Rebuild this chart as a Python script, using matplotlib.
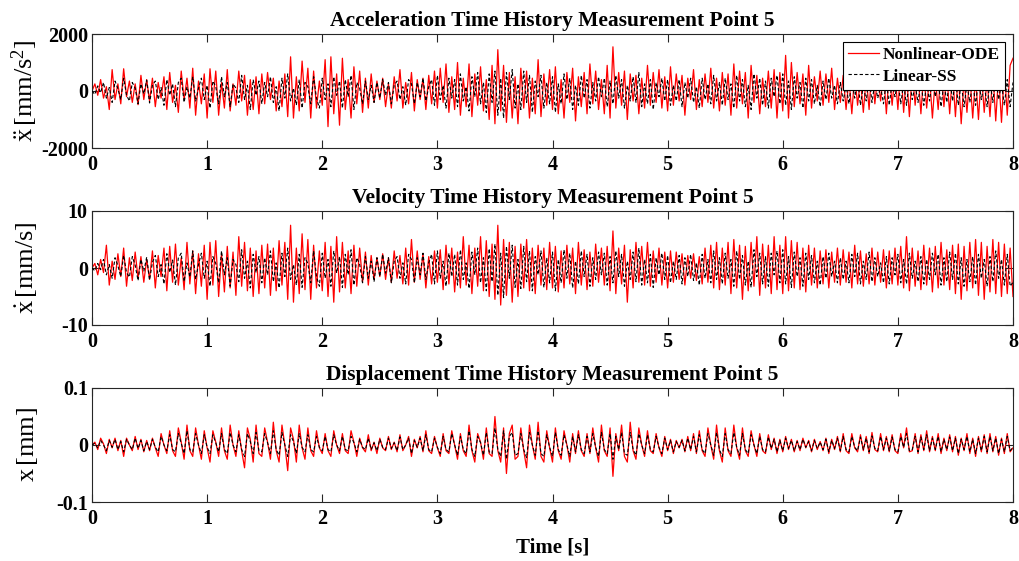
import numpy as np
import matplotlib
matplotlib.use("Agg")
import matplotlib.pyplot as plt

# ---------------------------------------------------------------------------
# Response of measurement point 5, sampled every 0.025 s over 0..8 s
# ---------------------------------------------------------------------------
time_start, time_end = 0.0, 8.0

acc_nonlinear = [
    0, 250, -150, 400, -250, 150, -650, 750, -300, 250, -450, 780, -200, 350, -400, 250, -480, 550, -300, 400,
    -350, 450, -550, 300, -250, 500, -650, 650, -400, 200, -750, 700, -300, 450, -600, 800, -850, 350, -450, 600,
    -950, 780, -400, 700, -850, 300, -600, 750, -700, 250, -500, 700, -350, 550, -850, 400, -650, 500, -800, 600,
    -450, 650, -300, 450, -700, 350, -550, 600, -900, 1200, -950, 500, -700, 1050, -400, 800, -950, 700, -600, 350,
    -500, 1100, -1250, 1200, -800, 600, -1200, 1150, -650, 400, -950, 850, -450, 700, -750, 450, -600, 600, -400, 350,
    -300, 450, -550, 250, -600, 500, -350, 750, -600, 300, -450, 650, -700, 400, -300, 450, -650, 550, -450, 700,
    -600, 800, -400, 950, -750, 500, -650, 1000, -850, 450, -550, 950, -900, 600, -500, 850, -700, 400, -1000, 900,
    -1150, 1450, -700, 900, -1100, 650, -950, 500, -1150, 800, -600, 700, -950, 450, -800, 1100, -900, 600, -500, 750,
    -650, 850, -800, 400, -950, 650, -400, 800, -1050, 500, -550, 650, -800, 950, -450, 700, -650, 400, -800, 900,
    -950, 1550, -600, 650, -500, 700, -1000, 600, -350, 550, -800, 450, -600, 900, -500, 650, -400, 750, -600, 500,
    -700, 850, -500, 600, -350, 550, -850, 450, -300, 750, -650, 400, -550, 600, -400, 800, -600, 450, -700, 650,
    -500, 600, -850, 950, -600, 700, -450, 650, -950, 900, -400, 550, -800, 450, -550, 700, -600, 750, -950, 650,
    -700, 1250, -950, 1000, -550, 650, -450, 600, -850, 900, -600, 500, -350, 700, -500, 600, -400, 800, -650, 450,
    -400, 550, -650, 450, -800, 600, -500, 400, -750, 500, -650, 850, -450, 550, -350, 650, -800, 700, -500, 600,
    -650, 850, -750, 600, -900, 700, -500, 600, -800, 650, -600, 500, -950, 450, -650, 750, -550, 600, -800, 650,
    -900, 650, -1150, 450, -750, 600, -950, 500, -1000, 650, -750, 450, -900, 700, -1050, 600, -1100, 750, -850, 900,
    1150,
]

acc_linear = [
    0, -120, 180, -60, 300, -250, 120, -400, 350, 80, -300, 450, -150, -350, 300, 100, -450, 250, -100, 380,
    -420, 200, 350, -300, 120, -500, 400, -150, 250, -550, 300, 450, -400, 150, -250, 500, -350, 100, 450, -300,
    200, -600, 350, 150, -450, 500, -200, 300, -550, 250, 100, -400, 550, -300, 200, -650, 400, -150, 350, -450,
    300, -200, 500, -400, 150, -700, 450, -250, 600, -350, 100, -500, 400, -600, 300, 150, -450, 500, -250, -600,
    450, -300, 250, -550, 500, -150, 350, -600, 400, -200, 550, -650, 300, 100, -450, 350, -300, 200, -400, 300,
    -250, 400, -150, 300, -450, 200, 350, -300, 150, -500, 400, 250, -450, 300, -200, 450, -350, 150, 400, -500,
    550, -300, 200, -600, 450, -250, 400, -550, 600, -350, 150, -700, 500, -200, 650, -450, 300, -750, 600, -400,
    700, -850, 450, -950, 650, -300, 750, -600, 250, -650, 700, -400, 550, -750, 350, -200, 550, -600, 300, -450,
    500, -750, 250, -450, 600, -300, 450, -650, 200, -500, 550, -250, 400, -600, 300, -350, 500, -200, 450, -550,
    350, -450, 550, -250, 400, -600, 200, -350, 500, -400, 650, -550, 250, -450, 400, -650, 300, -200, 450, -350,
    400, -500, 200, -350, 400, -550, 300, -250, 450, -400, 150, -600, 450, -300, 250, -450, 550, -350, 300, -500,
    450, -300, 250, -600, 550, -350, 400, -550, 200, -650, 600, -250, 450, -500, 350, -600, 450, -200, 550, -450,
    600, -500, 350, -650, 500, -250, 300, -600, 450, -350, 400, -450, 200, -550, 350, -300, 450, -250, 200, -450,
    300, -350, 200, -450, 400, -250, 450, -500, 200, -350, 500, -400, 300, -250, 150, -450, 350, -500, 300, -200,
    400, -450, 250, -500, 450, -300, 200, -400, 350, -500, 250, -350, 450, -200, 400, -550, 300, -400, 500, -350,
    450, -500, 300, -550, 250, -400, 350, -500, 400, -300, 250, -550, 350, -400, 500, -300, 250, -500, 400, -550,
    300,
]

vel_nonlinear = [
    0, 0.8, -1.2, 1.5, -0.8, 4.0, -3.0, 1.2, -2.0, 2.5, -1.5, 3.5, -3.2, 1.8, -2.2, 2.8, -1.8, 2.0, -2.5, 1.5,
    -2.0, 3.0, -3.5, 2.2, -1.5, 3.5, -4.0, 3.8, -2.5, 4.2, -3.0, 1.8, -3.8, 4.5, -2.8, 3.0, -4.5, 2.5, -3.2, 4.0,
    -5.5, 4.5, -3.0, 4.8, -5.0, 2.5, -4.2, 3.8, -3.5, 2.8, -4.8, 5.5, -3.2, 4.5, -4.0, 3.5, -5.0, 3.0, -4.5, 4.0,
    -3.5, 4.2, -4.8, 3.5, -4.0, 4.8, -3.0, 4.5, -5.5, 7.5, -6.0, 3.5, -4.5, 6.0, -3.8, 5.0, -5.5, 4.0, -3.5, 3.0,
    -4.0, 4.5, -5.0, 3.8, -6.0, 5.5, -4.2, 4.5, -3.5, 3.0, -4.5, 4.0, -3.2, 3.5, -2.5, 2.8, -3.0, 2.2, -2.0, 1.8,
    -1.5, 2.5, -2.0, 1.8, -2.5, 3.0, -1.8, 2.2, -2.8, 3.5, -3.0, 5.0, -2.5, 3.0, -2.0, 2.5, -3.5, 2.0, -2.8, 3.0,
    -2.5, 3.2, -3.8, 4.0, -2.8, 3.5, -4.2, 2.8, -3.5, 5.5, -3.0, 4.0, -4.5, 3.5, -3.2, 5.5, -4.0, 4.8, -5.0, 4.2,
    -5.5, 7.5, -6.5, 5.0, -4.8, 4.5, -6.0, 3.8, -5.0, 4.2, -3.5, 5.0, -4.0, 3.5, -4.5, 4.0, -3.0, 3.5, -3.8, 4.5,
    -3.5, 3.8, -4.2, 3.0, -3.5, 4.0, -2.8, 3.5, -4.5, 4.5, -3.0, 3.2, -3.8, 2.8, -3.2, 4.2, -2.5, 3.5, -3.0, 3.8,
    -4.0, 6.5, -4.5, 3.5, -2.8, 4.0, -6.0, 3.2, -3.5, 4.5, -2.5, 3.8, -3.0, 4.5, -3.2, 3.0, -2.5, 3.5, -3.0, 2.8,
    -3.5, 3.0, -2.5, 2.8, -2.0, 2.5, -3.0, 2.2, -1.8, 2.5, -2.2, 2.0, -2.8, 3.5, -2.5, 4.0, -3.5, 4.5, -3.8, 3.5,
    -3.0, 4.5, -4.5, 5.0, -3.5, 4.0, -5.5, 3.8, -4.0, 4.5, -3.2, 5.5, -4.8, 4.2, -3.5, 4.0, -4.5, 5.5, -3.8, 4.0,
    -4.5, 5.5, -4.0, 4.8, -3.5, 4.5, -3.8, 3.5, -4.2, 4.0, -3.0, 3.5, -3.5, 3.0, -2.8, 3.2, -3.5, 2.8, -2.5, 3.5,
    -3.0, 3.2, -2.5, 2.8, -3.5, 4.0, -2.8, 3.0, -3.2, 2.5, -2.8, 3.5, -3.0, 2.8, -2.5, 3.2, -3.5, 3.0, -2.8, 3.5,
    -3.0, 3.8, -3.5, 5.5, -4.0, 3.5, -3.2, 3.0, -3.8, 4.0, -3.0, 3.5, -4.2, 3.8, -3.5, 4.5, -3.0, 3.2, -3.8, 4.0,
    -4.5, 4.2, -5.5, 3.8, -4.0, 4.5, -3.5, 5.0, -4.8, 4.5, -5.5, 3.8, -4.2, 5.0, -4.5, 4.5, -5.0, 4.2, -4.5, 3.5,
    -5.0,
]

vel_linear = [
    0, -0.5, 0.8, -0.3, 1.5, -1.2, 0.6, -1.8, 1.8, 0.4, -1.5, 2.2, -0.8, -1.6, 2.0, 0.5, -2.2, 1.5, -0.6, 1.9,
    -2.1, 1.0, 2.2, -1.5, 0.6, -2.8, 2.5, -0.8, 1.4, -3.0, 1.8, 2.6, -2.4, 0.9, -1.6, 3.0, -2.0, 0.6, 2.6, -1.8,
    1.2, -3.2, 2.0, 0.8, -2.6, 3.0, -1.2, 1.8, -3.2, 1.5, 0.6, -2.4, 3.2, -1.8, 1.2, -3.5, 2.4, -0.8, 2.0, -2.6,
    1.8, -1.2, 3.0, -2.4, 0.9, -3.5, 2.6, -1.5, 3.5, -2.0, 0.6, -3.0, 2.4, -3.4, 1.8, 0.8, -2.6, 3.0, -1.5, -3.2,
    2.6, -1.8, 1.5, -3.2, 3.0, -0.9, 2.0, -3.4, 2.4, -1.2, 3.2, -3.0, 1.8, 0.6, -2.6, 2.0, -1.8, 1.2, -2.4, 1.8,
    -1.5, 2.4, -0.9, 1.8, -2.6, 1.2, 2.0, -1.8, 0.9, -2.8, 2.4, 1.5, -2.6, 1.8, -1.2, 2.6, -2.0, 0.9, 2.4, -2.8,
    3.0, -1.8, 1.2, -3.2, 2.6, -1.5, 2.4, -3.0, 3.2, -2.0, 0.9, -3.6, 2.8, -1.2, 3.5, -2.6, 1.8, -4.0, 3.4, -2.4,
    4.2, -4.8, 2.6, -5.2, 3.8, -1.8, 4.0, -3.4, 1.5, -3.6, 3.8, -2.4, 3.0, -4.0, 2.0, -1.2, 3.0, -3.4, 1.8, -2.6,
    2.8, -4.0, 1.5, -2.6, 3.2, -1.8, 2.6, -3.5, 1.2, -2.8, 3.0, -1.5, 2.4, -3.2, 1.8, -2.0, 2.8, -1.2, 2.6, -3.0,
    2.0, -2.6, 3.0, -1.5, 2.4, -3.2, 1.2, -2.0, 2.8, -2.4, 3.5, -3.0, 1.5, -2.6, 2.4, -3.4, 1.8, -1.2, 2.6, -2.0,
    2.2, -2.6, 1.2, -2.0, 2.2, -2.8, 1.8, -1.5, 2.4, -2.2, 0.9, -3.0, 2.4, -1.8, 1.5, -2.6, 3.0, -2.0, 1.8, -2.8,
    2.6, -1.8, 1.5, -3.2, 3.0, -2.0, 2.2, -3.0, 1.2, -3.4, 3.2, -1.5, 2.6, -2.8, 2.0, -3.2, 2.6, -1.2, 3.0, -2.6,
    3.2, -2.8, 2.0, -3.4, 2.8, -1.5, 1.8, -3.2, 2.6, -2.0, 2.2, -2.6, 1.2, -3.0, 2.0, -1.8, 2.6, -1.5, 1.2, -2.6,
    1.8, -2.0, 1.2, -2.6, 2.4, -1.5, 2.6, -2.8, 1.2, -2.0, 2.8, -2.4, 1.8, -1.5, 0.9, -2.6, 2.0, -2.8, 1.8, -1.2,
    2.4, -2.6, 1.5, -2.8, 2.6, -1.8, 1.2, -2.4, 2.0, -2.8, 1.5, -2.0, 2.6, -1.2, 2.4, -3.0, 1.8, -2.4, 2.8, -2.0,
    2.6, -2.8, 1.8, -3.2, 1.5, -2.4, 2.0, -3.0, 2.4, -1.8, 1.5, -3.2, 2.0, -2.4, 3.0, -1.8, 1.5, -3.0, 2.4, -3.2,
    -2.5,
]

disp_nonlinear = [
    0, 0.005, -0.008, 0.012, 0.002, -0.015, 0.01, -0.005, 0.012, -0.01, 0.008, -0.02, 0.012, 0.0, -0.01, 0.015, -0.008, 0.01, -0.012, 0.008,
    -0.01, 0.012, -0.005, -0.02, 0.02, 0.0, -0.015, 0.025, -0.01, -0.02, 0.03, 0.005, -0.025, 0.035, -0.01, -0.02, 0.03, 0.0, -0.025, 0.025,
    -0.005, -0.03, 0.025, 0.005, -0.02, 0.03, -0.01, -0.025, 0.035, 0.0, -0.02, 0.025, -0.01, -0.04, 0.03, 0.01, -0.03, 0.035, -0.015, -0.02,
    0.03, 0.005, -0.025, 0.04, -0.01, -0.03, 0.035, 0.0, -0.045, 0.03, 0.01, -0.03, 0.035, -0.005, -0.025, 0.03, -0.01, -0.02, 0.025, -0.005,
    -0.015, 0.02, -0.01, -0.02, 0.025, 0.0, -0.015, 0.02, -0.01, -0.015, 0.025, 0.005, -0.02, 0.012, -0.005, -0.012, 0.018, -0.01, 0.005, -0.015,
    0.012, -0.005, -0.01, 0.015, -0.008, 0.005, -0.012, 0.018, -0.01, 0.0, 0.015, -0.02, 0.01, -0.005, 0.015, -0.012, 0.025, -0.01, -0.015, 0.015,
    -0.005, -0.02, 0.02, -0.01, -0.015, 0.025, 0.0, -0.025, 0.02, -0.01, -0.02, 0.035, -0.01, -0.03, 0.02, 0.005, -0.025, 0.03, -0.015, -0.02,
    0.05, -0.01, -0.03, 0.03, -0.05, 0.02, 0.035, -0.025, -0.02, 0.03, -0.01, -0.04, 0.035, 0.0, -0.025, 0.04, -0.02, -0.03, 0.025, -0.005,
    -0.03, 0.03, -0.01, -0.025, 0.025, 0.0, -0.03, 0.02, -0.015, 0.025, -0.01, -0.02, 0.02, -0.015, 0.03, -0.005, -0.03, 0.035, -0.01, -0.02,
    0.03, -0.055, 0.02, -0.01, 0.035, -0.02, -0.03, 0.04, -0.01, -0.025, 0.03, 0.0, -0.02, 0.025, -0.01, -0.015, 0.02, -0.005, -0.02, 0.015,
    -0.01, 0.01, -0.015, 0.008, -0.005, 0.01, -0.012, 0.015, -0.01, 0.02, -0.015, 0.025, -0.01, -0.02, 0.03, 0.0, -0.025, 0.035, -0.01, -0.03,
    0.03, -0.01, -0.02, 0.035, -0.005, -0.025, 0.03, -0.01, -0.02, 0.025, 0.0, -0.02, 0.02, -0.01, -0.015, 0.018, -0.008, 0.012, -0.015, 0.01,
    -0.012, 0.015, -0.008, 0.01, -0.012, 0.008, -0.01, 0.012, -0.005, 0.008, -0.012, 0.01, -0.008, 0.006, -0.01, 0.012, -0.015, 0.01, -0.008, 0.015,
    -0.012, 0.02, -0.01, -0.015, 0.02, -0.005, -0.012, 0.018, -0.01, 0.015, -0.015, 0.022, -0.008, -0.012, 0.02, -0.01, 0.015, -0.012, 0.018, -0.01,
    -0.015, 0.02, -0.005, 0.03, -0.012, -0.01, 0.02, -0.015, 0.018, -0.01, 0.025, -0.012, 0.015, -0.01, 0.02, -0.015, 0.012, -0.01, 0.018, -0.012,
    0.015, -0.018, 0.012, -0.01, 0.02, -0.015, 0.012, -0.02, 0.015, -0.012, 0.018, -0.015, 0.02, -0.012, 0.015, -0.018, 0.012, -0.015, 0.02, -0.012,
    -0.005,
]

disp_linear = [
    0, 0.003, -0.005, 0.008, 0.0, -0.01, 0.008, -0.004, 0.01, -0.008, 0.006, -0.012, 0.01, 0.0, -0.008, 0.012, -0.006, 0.008, -0.01, 0.006,
    -0.008, 0.01, -0.004, -0.012, 0.015, 0.0, -0.01, 0.018, -0.008, -0.012, 0.02, 0.003, -0.015, 0.025, -0.008, -0.012, 0.02, 0.0, -0.015, 0.018,
    -0.004, -0.015, 0.018, 0.004, -0.012, 0.02, -0.008, -0.015, 0.022, 0.0, -0.012, 0.018, -0.008, -0.02, 0.02, 0.006, -0.015, 0.022, -0.01, -0.012,
    0.02, 0.004, -0.015, 0.025, -0.008, -0.018, 0.022, 0.0, -0.02, 0.018, 0.006, -0.015, 0.02, -0.004, -0.012, 0.018, -0.008, -0.012, 0.015, -0.004,
    -0.01, 0.015, -0.008, -0.012, 0.018, 0.0, -0.01, 0.015, -0.008, -0.01, 0.015, 0.004, -0.012, 0.01, -0.004, -0.008, 0.012, -0.008, 0.004, -0.01,
    0.01, -0.004, -0.008, 0.012, -0.006, 0.004, -0.01, 0.014, -0.008, 0.0, 0.012, -0.015, 0.008, -0.004, 0.012, -0.01, 0.018, -0.008, -0.012, 0.012,
    -0.004, -0.015, 0.015, -0.008, -0.012, 0.02, 0.0, -0.018, 0.015, -0.008, -0.015, 0.025, -0.008, -0.02, 0.015, 0.004, -0.018, 0.022, -0.012, -0.015,
    0.03, -0.008, -0.02, 0.025, -0.025, 0.015, 0.022, -0.018, -0.015, 0.02, -0.008, -0.022, 0.022, 0.0, -0.018, 0.025, -0.015, -0.02, 0.018, -0.004,
    -0.02, 0.022, -0.008, -0.018, 0.018, 0.0, -0.02, 0.015, -0.012, 0.018, -0.008, -0.015, 0.015, -0.012, 0.02, -0.004, -0.02, 0.022, -0.008, -0.015,
    0.02, -0.025, 0.015, -0.008, 0.022, -0.015, -0.018, 0.022, -0.008, -0.018, 0.02, 0.0, -0.015, 0.018, -0.008, -0.012, 0.015, -0.004, -0.015, 0.012,
    -0.008, 0.008, -0.012, 0.006, -0.004, 0.008, -0.01, 0.012, -0.008, 0.015, -0.012, 0.018, -0.008, -0.015, 0.02, 0.0, -0.018, 0.022, -0.008, -0.02,
    0.02, -0.008, -0.015, 0.022, -0.004, -0.018, 0.02, -0.008, -0.015, 0.018, 0.0, -0.015, 0.015, -0.008, -0.012, 0.014, -0.006, 0.01, -0.012, 0.008,
    -0.01, 0.012, -0.006, 0.008, -0.01, 0.006, -0.008, 0.01, -0.004, 0.006, -0.01, 0.008, -0.006, 0.005, -0.008, 0.01, -0.012, 0.008, -0.006, 0.012,
    -0.01, 0.015, -0.008, -0.012, 0.015, -0.004, -0.01, 0.014, -0.008, 0.012, -0.012, 0.016, -0.006, -0.01, 0.015, -0.008, 0.012, -0.01, 0.014, -0.008,
    -0.012, 0.015, -0.004, 0.02, -0.01, -0.008, 0.015, -0.012, 0.014, -0.008, 0.018, -0.01, 0.012, -0.008, 0.015, -0.012, 0.01, -0.008, 0.014, -0.01,
    0.012, -0.015, 0.01, -0.008, 0.015, -0.012, 0.01, -0.015, 0.012, -0.01, 0.015, -0.012, 0.015, -0.01, 0.012, -0.015, 0.01, -0.012, 0.015, -0.01,
    -0.004,
]

x_ticks = [0, 1, 2, 3, 4, 5, 6, 7, 8]
panel_titles = [
    "Acceleration Time History Measurement Point 5",
    "Velocity Time History Measurement Point 5",
    "Displacement Time History Measurement Point 5",
]
panel_ylabels = [
    r"$\ddot{\mathrm{x}}\,[\mathrm{mm/s^2}]$",
    r"$\dot{\mathrm{x}}\,[\mathrm{mm/s}]$",
    r"$\mathrm{x}\,[\mathrm{mm}]$",
]
panel_yticks = [[-2000, 0, 2000], [-10, 0, 10], [-0.1, 0, 0.1]]
panel_yticklabels = [["-2000", "0", "2000"], ["-10", "0", "10"], ["-0.1", "0", "0.1"]]
series_labels = ["Nonlinear-ODE", "Linear-SS"]

# ---------------------------------------------------------------------------
plt.rcParams.update({
    "font.family": ["Liberation Serif", "DejaVu Serif"],
    "mathtext.fontset": "custom",
    "mathtext.rm": "Liberation Serif:normal",
    "mathtext.it": "Liberation Serif:italic",
    "mathtext.bf": "Liberation Serif:bold",
    "axes.unicode_minus": False,
})

frame_color = "#262626"
fig = plt.figure(figsize=(10.19, 5.61), dpi=100)
W, H = 1019, 561
left_px, right_px = 92, 1013
panel_px = [(34, 148), (211, 325), (388, 502)]

series = [
    (acc_nonlinear, acc_linear),
    (vel_nonlinear, vel_linear),
    (disp_nonlinear, disp_linear),
]

for i, ((top_px, bot_px), (red_vals, blk_vals)) in enumerate(zip(panel_px, series)):
    ax = fig.add_axes([left_px / W, 1 - bot_px / H, (right_px - left_px) / W, (bot_px - top_px) / H])
    t = np.linspace(time_start, time_end, len(red_vals))
    ax.plot(t, red_vals, color="#ff0000", lw=0.9, label=series_labels[0], zorder=2)
    ax.plot(t, blk_vals, color="black", lw=0.8, ls=(0, (3, 2)), label=series_labels[1], zorder=3)

    ax.set_xlim(time_start, time_end)
    ax.set_ylim(panel_yticks[i][0], panel_yticks[i][-1])
    ax.set_xticks(x_ticks)
    ax.set_xticklabels([str(v) for v in x_ticks])
    ax.set_yticks(panel_yticks[i])
    ax.set_yticklabels(panel_yticklabels[i])
    ax.tick_params(direction="in", top=True, right=True, length=6, width=0.8,
                   color=frame_color, labelsize=14.5)
    ax.tick_params(axis="x", pad=5)
    ax.tick_params(axis="y", pad=3)
    for lab in ax.get_xticklabels() + ax.get_yticklabels():
        lab.set_fontweight("bold")
    for sp in ax.spines.values():
        sp.set_color(frame_color)
        sp.set_linewidth(0.8)

    ax.set_title(panel_titles[i], fontsize=15.5, fontweight="bold", pad=6)
    ax.set_ylabel(panel_ylabels[i], fontsize=19)
    ax.yaxis.set_label_coords(-0.056, 0.5)

    if i == 0:
        leg = ax.legend(loc="upper right", fontsize=12.5, frameon=True, fancybox=False,
                        edgecolor="black", framealpha=1, handlelength=1.8, handletextpad=0.2,
                        borderpad=0.3, labelspacing=0.3, borderaxespad=0.45)
        leg.get_frame().set_linewidth(0.8)
        for txt in leg.get_texts():
            txt.set_fontweight("bold")
    if i == 2:
        ax.set_xlabel("Time [s]", fontsize=15, fontweight="bold", labelpad=6)

fig.savefig("out.png", dpi=100, facecolor="white")
